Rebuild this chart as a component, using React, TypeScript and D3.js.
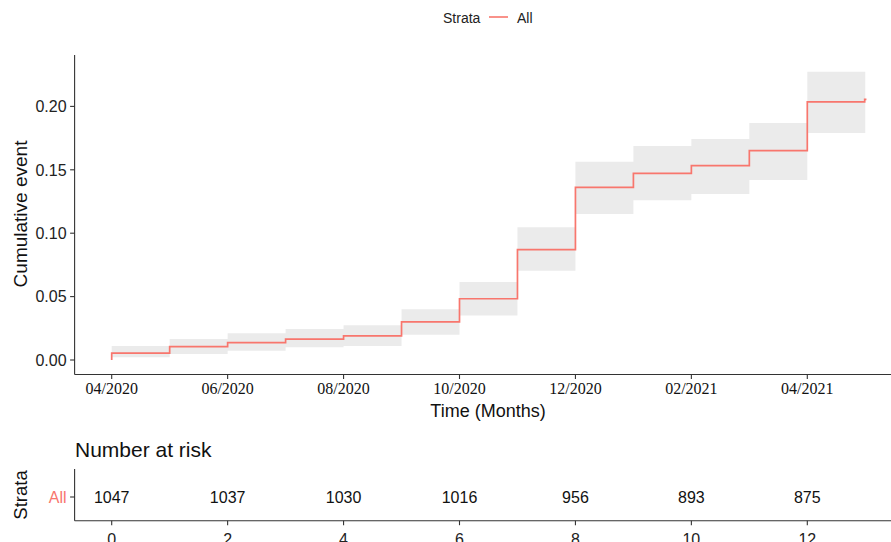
import React from "react";
import * as d3 from "d3";

const stepTimes = [0, 1, 2, 3, 4, 5, 6, 7, 8, 9, 10, 11, 12, 12.99];
const estimate = [0.0055, 0.0105, 0.0137, 0.0165, 0.019, 0.03, 0.0483, 0.087, 0.1362, 0.1472, 0.1533, 0.1651, 0.2035, 0.2055];
const lowerCI = [0.0022, 0.0048, 0.0073, 0.01, 0.011, 0.02, 0.035, 0.0704, 0.1151, 0.1259, 0.131, 0.142, 0.179, 0.179];
const upperCI = [0.011, 0.0165, 0.021, 0.0245, 0.0275, 0.04, 0.0615, 0.1047, 0.1564, 0.1688, 0.1743, 0.187, 0.2274, 0.2274];
const endTime = 13.02;
const bandEnd = 13.0;

const xTickMonths = [0, 2, 4, 6, 8, 10, 12];
const xTickLabels = ["04/2020", "06/2020", "08/2020", "10/2020", "12/2020", "02/2021", "04/2021"];
const yTicks = [0, 0.05, 0.1, 0.15, 0.2];
const riskMonths = [0, 2, 4, 6, 8, 10, 12];
const riskCounts = [1047, 1037, 1030, 1016, 956, 893, 875];

const RED = "#F8766D";
const SANS = "'Liberation Sans', Arial, sans-serif";
const SERIF = "'Liberation Serif', 'Times New Roman', serif";

export default function App() {
  const x = d3.scaleLinear().domain([0, 12]).range([111.7, 807.3]);
  const y = d3.scaleLinear().domain([0, 0.2]).range([360, 106.4]);

  const left = x(-0.64);
  const right = 891;
  const top = 55;
  const bottom = 374.5;

  const linePts: [number, number][] = [[0, 0]];
  stepTimes.forEach((t, i) => linePts.push([t, estimate[i]]));
  linePts.push([endTime, estimate[estimate.length - 1]]);
  const line = d3
    .line<[number, number]>()
    .x((d) => x(d[0]))
    .y((d) => y(d[1]))
    .curve(d3.curveStepAfter);

  const bandPts = stepTimes.map((t, i) => ({ t, lo: lowerCI[i], hi: upperCI[i] }));
  bandPts.push({ t: bandEnd, lo: lowerCI[lowerCI.length - 1], hi: upperCI[upperCI.length - 1] });
  const area = d3
    .area<{ t: number; lo: number; hi: number }>()
    .x((d) => x(d.t))
    .y0((d) => y(d.lo))
    .y1((d) => y(d.hi))
    .curve(d3.curveStepAfter);

  const axisColor = "#333333";
  const riskTop = 469;
  const riskBottom = 520.7;
  const riskMid = 497;

  return (
    <svg
      width={891}
      height={542}
      style={{ position: "absolute", left: 0, top: 0, background: "#fff" }}
    >
      {/* Legend */}
      <text x={443} y={23} fontFamily={SANS} fontSize={14} fill="#222">Strata</text>
      <line x1={489} x2={508} y1={17} y2={17} stroke={RED} strokeWidth={1.6} />
      <text x={517} y={23} fontFamily={SANS} fontSize={14} fill="#222">All</text>

      {/* Confidence band and curve */}
      <path d={area(bandPts) || ""} fill="#ebebeb" stroke="none" />
      <path d={line(linePts) || ""} fill="none" stroke={RED} strokeWidth={1.7} />

      {/* Y axis */}
      <line x1={left} x2={left} y1={top} y2={bottom} stroke={axisColor} strokeWidth={1.1} />
      {yTicks.map((v) => (
        <g key={v}>
          <line x1={left - 4.5} x2={left} y1={y(v)} y2={y(v)} stroke={axisColor} strokeWidth={1.1} />
          <text x={left - 8} y={y(v)} dy="0.36em" textAnchor="end" fontFamily={SANS} fontSize={16} fill="#222">
            {v.toFixed(2)}
          </text>
        </g>
      ))}
      <text
        transform={`translate(26.5,214) rotate(-90)`}
        textAnchor="middle"
        fontFamily={SANS}
        fontSize={19}
        fill="#111"
      >
        Cumulative event
      </text>

      {/* X axis */}
      <line x1={left} x2={right} y1={bottom} y2={bottom} stroke={axisColor} strokeWidth={1.1} />
      {xTickMonths.map((m, i) => (
        <g key={m}>
          <line x1={x(m)} x2={x(m)} y1={bottom} y2={bottom + 4.5} stroke={axisColor} strokeWidth={1.1} />
          <text x={x(m)} y={394} textAnchor="middle" fontFamily={SERIF} fontSize={16} fill="#111">
            {xTickLabels[i]}
          </text>
        </g>
      ))}
      <text x={488} y={417} textAnchor="middle" fontFamily={SANS} fontSize={18} fill="#111">
        Time (Months)
      </text>

      {/* Risk table */}
      <text x={75} y={457} fontFamily={SANS} fontSize={21} fill="#111">Number at risk</text>
      <line x1={left} x2={left} y1={riskTop} y2={riskBottom} stroke={axisColor} strokeWidth={1.1} />
      <line x1={left - 4.5} x2={left} y1={riskMid} y2={riskMid} stroke={axisColor} strokeWidth={1.1} />
      <text x={left - 8} y={riskMid} dy="0.36em" textAnchor="end" fontFamily={SANS} fontSize={16} fill={RED}>
        All
      </text>
      <text
        transform={`translate(26.5,495) rotate(-90)`}
        textAnchor="middle"
        fontFamily={SANS}
        fontSize={18.5}
        fill="#111"
      >
        Strata
      </text>
      {riskMonths.map((m, i) => (
        <text key={m} x={x(m)} y={riskMid} dy="0.36em" textAnchor="middle" fontFamily={SANS} fontSize={16} fill="#111">
          {riskCounts[i]}
        </text>
      ))}
      <line x1={left} x2={right} y1={riskBottom} y2={riskBottom} stroke={axisColor} strokeWidth={1.1} />
      {riskMonths.map((m) => (
        <g key={m}>
          <line x1={x(m)} x2={x(m)} y1={riskBottom} y2={riskBottom + 4.5} stroke={axisColor} strokeWidth={1.1} />
          <text x={x(m)} y={545} textAnchor="middle" fontFamily={SANS} fontSize={16} fill="#222">
            {m}
          </text>
        </g>
      ))}
    </svg>
  );
}
